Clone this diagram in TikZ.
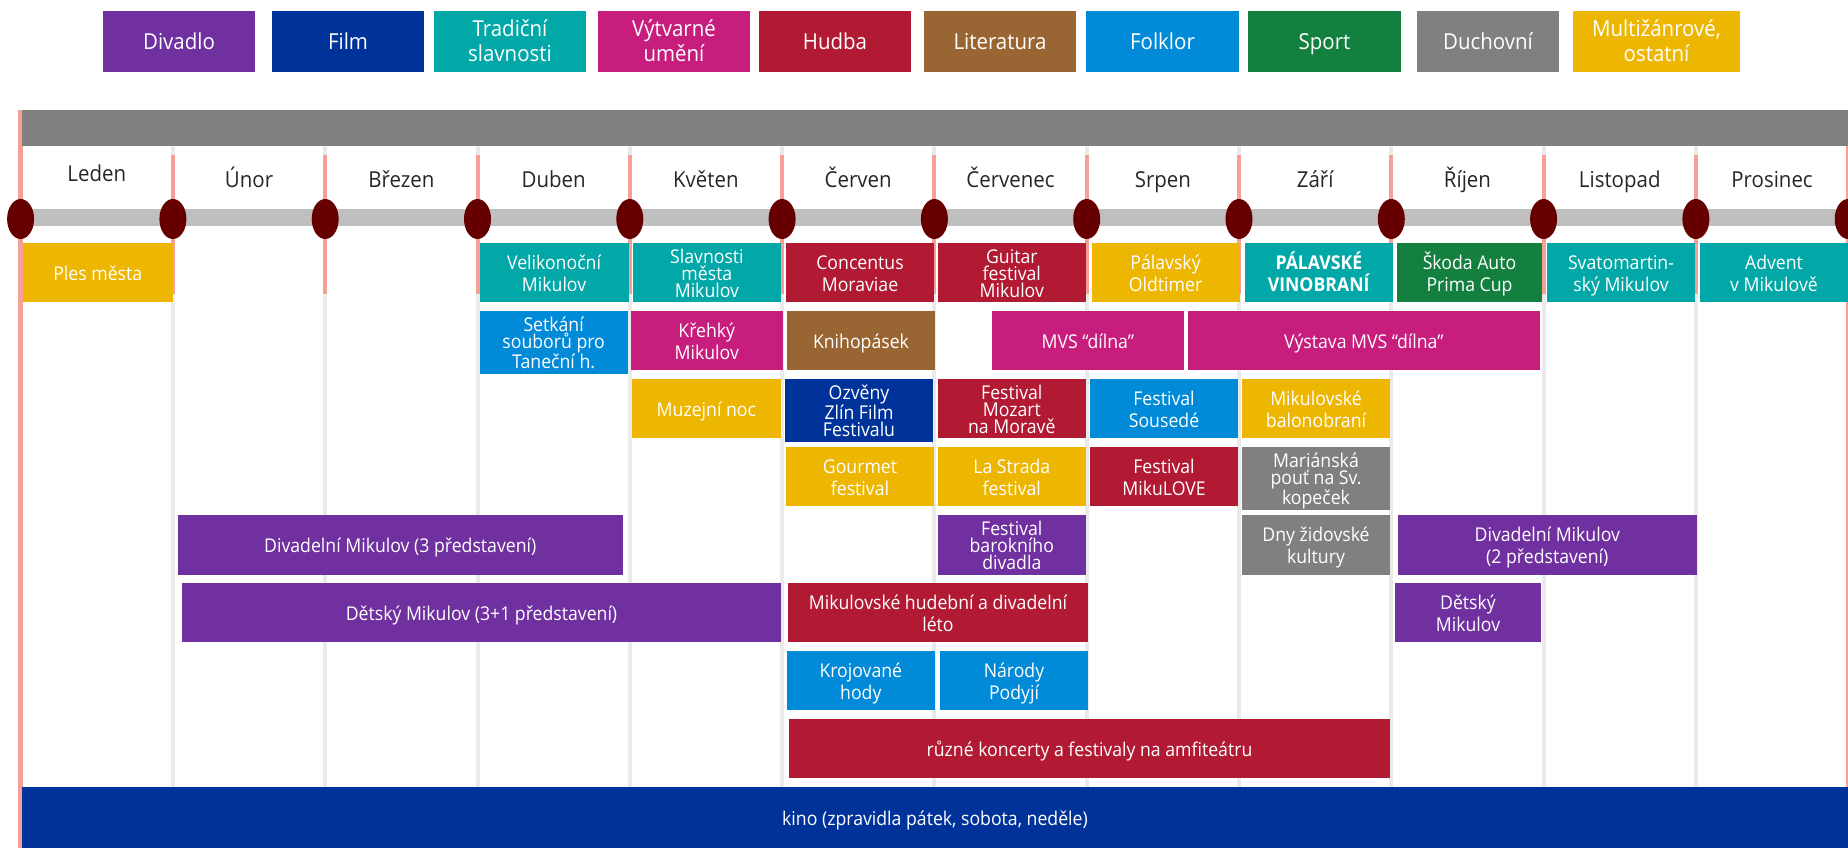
\documentclass[tikz,border=0pt]{standalone}
\usepackage{fontspec}
\setmainfont{Open Sans}[FakeStretch=0.93]
\usetikzlibrary{shapes.geometric}
\definecolor{cPurple}{HTML}{7030A0}
\definecolor{cNavy}{HTML}{003399}
\definecolor{cTeal}{HTML}{02A8A7}
\definecolor{cMagenta}{HTML}{C71D7D}
\definecolor{cCrimson}{HTML}{B21A34}
\definecolor{cBrown}{HTML}{996633}
\definecolor{cBlue}{HTML}{008AD8}
\definecolor{cGreen}{HTML}{138040}
\definecolor{cGray}{HTML}{808080}
\definecolor{cYellow}{HTML}{EDB600}
\definecolor{cMaroon}{HTML}{660000}
\definecolor{cSalmon}{HTML}{F59F96}
\definecolor{cBar}{HTML}{BFBFBF}
\definecolor{cLine}{HTML}{EAEAEA}
\definecolor{cText}{HTML}{262626}
\newcommand\evtop{\rule{0pt}{20.5pt}}
\newcommand\evbot{\rule[-4.9pt]{0pt}{4.9pt}}
\newcommand\lgtop{\rule{0pt}{22pt}}
\newcommand\lgbot{\rule[-6.3pt]{0pt}{6.3pt}}
\newcommand\ev[8][]{%
  \node[evbox,fill=#7,minimum width={#5-#3},minimum height={#6-#4},anchor=north west,#1] (#2) at (#3,#4) {\evtop#8\evbot};}
\newcommand\legbx[7]{%
  \node[legbox,fill=#6,minimum width={#4-#2},minimum height={#5-#3},anchor=north west] (#1) at (#2,#3) {\lgtop#7\lgbot};}
\begin{document}
\begin{tikzpicture}[x=1pt,y=-1pt,
  evbox/.style={rectangle,inner sep=0pt,outer sep=0pt,text=white,align=center,font=\fontsize{19}{22}\selectfont},
  three/.style={font=\fontsize{19}{17}\selectfont},
  legbox/.style={evbox,font=\fontsize{22}{25}\selectfont},
  month/.style={text=cText,font=\fontsize{22}{26}\selectfont,inner sep=0pt},
  dot/.style={ellipse,fill=cMaroon,minimum width=27pt,minimum height=40pt,inner sep=0pt},
  grid/.style={draw=cLine,line width=4pt},
  sal/.style={draw=cSalmon,line width=4pt}]
\useasboundingbox (0,0) rectangle (1848,848);
\clip (0,0) rectangle (1848,848);
% legend
\legbx{lDiv}{103}{11}{255}{72}{cPurple}{Divadlo}
\legbx{lFilm}{272}{11}{424}{72}{cNavy}{Film}
\legbx{lTrad}{434}{11}{586}{72}{cTeal}{Tradiční\\slavnosti}
\legbx{lVyt}{598}{11}{750}{72}{cMagenta}{Výtvarné\\umění}
\legbx{lHud}{759}{11}{911}{72}{cCrimson}{Hudba}
\legbx{lLit}{924}{11}{1076}{72}{cBrown}{Literatura}
\legbx{lFolk}{1086}{11}{1239}{72}{cBlue}{Folklor}
\legbx{lSport}{1248}{11}{1401}{72}{cGreen}{Sport}
\legbx{lDuch}{1417}{11}{1559}{72}{cGray}{Duchovní}
\legbx{lMulti}{1573}{11}{1740}{72}{cYellow}{Multižánrové,\\ostatní}
% grid lines
\foreach \k in {1,...,11}{
  \draw[grid] ({20.6+152.3*\k},146) -- ({20.6+152.3*\k},787);
  \draw[sal] ({20.6+152.3*\k},155) -- ({20.6+152.3*\k},294);
}
\draw[sal,line width=5pt] (20,110) -- (20,848);
\draw[sal] (1848,146) -- (1848,787);
% header and timeline
\fill[cGray] (22,110) rectangle (1848,146);
\fill[cBar] (20,209) rectangle (1848,226);
\foreach \k in {0,...,12}{
  \node[dot] (d\k) at ({20.6+152.3*\k},219) {};
}
% month labels
\node[month] (m1) at ({20.6+152.3*0.5},174) {\lgtop Leden\lgbot};
\node[month] (m2) at ({20.6+152.3*1.5},180) {\lgtop Únor\lgbot};
\node[month] (m3) at ({20.6+152.3*2.5},180) {\lgtop Březen\lgbot};
\node[month] (m4) at ({20.6+152.3*3.5},180) {\lgtop Duben\lgbot};
\node[month] (m5) at ({20.6+152.3*4.5},180) {\lgtop Květen\lgbot};
\node[month] (m6) at ({20.6+152.3*5.5},180) {\lgtop Červen\lgbot};
\node[month] (m7) at ({20.6+152.3*6.5},180) {\lgtop Červenec\lgbot};
\node[month] (m8) at ({20.6+152.3*7.5},180) {\lgtop Srpen\lgbot};
\node[month] (m9) at ({20.6+152.3*8.5},180) {\lgtop Září\lgbot};
\node[month] (m10) at ({20.6+152.3*9.5},180) {\lgtop Říjen\lgbot};
\node[month] (m11) at ({20.6+152.3*10.5},180) {\lgtop Listopad\lgbot};
\node[month] (m12) at ({20.6+152.3*11.5},180) {\lgtop Prosinec\lgbot};
% row 1
\ev{ples}{22.5}{243}{173}{302}{cYellow}{Ples města}
\ev{velik}{479.6}{243}{628.5}{302}{cTeal}{Velikonoční\\Mikulov}
\ev[three]{slavn}{632.8}{243}{781}{302}{cTeal}{Slavnosti\\města\\Mikulov}
\ev{concentus}{786}{243}{934}{302}{cCrimson}{Concentus\\Moraviae}
\ev[three]{guitar}{938}{243}{1085.6}{302}{cCrimson}{Guitar\\festival\\Mikulov}
\ev{oldtimer}{1091.5}{243}{1239.6}{302}{cYellow}{Pálavský\\Oldtimer}
\ev{vinobrani}{1244.8}{243}{1393}{302}{cTeal}{\textbf{PÁLAVSKÉ}\\\textbf{VINOBRANÍ}}
\ev{skoda}{1397}{243}{1542}{302}{cGreen}{Škoda Auto\\Prima Cup}
\ev{svatomartin}{1547}{243}{1695}{302}{cTeal}{Svatomartin-\\ský Mikulov}
\ev{advent}{1700}{243}{1848}{302}{cTeal}{Advent\\v Mikulově}
% row 2
\ev[three]{setkani}{479.6}{311}{627.7}{370}{cBlue}{Setkání\\souborů pro\\Taneční h.}
\ev{krehky}{630.8}{311}{782.7}{370}{cMagenta}{Křehký\\Mikulov}
\ev{kniho}{787}{311}{935}{370}{cBrown}{Knihopásek}
\ev{mvs}{992}{311}{1183.6}{370}{cMagenta}{MVS “dílna”}
\ev{vystava}{1187.6}{311}{1540}{370}{cMagenta}{Výstava MVS “dílna”}
% row 3
\ev{muzejni}{632}{379}{780.7}{438}{cYellow}{Muzejní noc}
\ev[three]{ozveny}{785}{379}{933}{438}{cNavy}{Ozvěny\\Zlín Film\\Festivalu}
\ev[three]{mozart}{938}{379}{1085.6}{438}{cCrimson}{Festival\\Mozart\\na Moravě}
\ev{sousede}{1090}{379}{1238}{438}{cBlue}{Festival\\Sousedé}
\ev{balon}{1242}{379}{1390}{438}{cYellow}{Mikulovské\\balonobraní}
% row 4
\ev{gourmet}{786}{447}{934}{506}{cYellow}{Gourmet\\festival}
\ev{strada}{938}{447}{1085.6}{506}{cYellow}{La Strada\\festival}
\ev{mikulove}{1090}{447}{1238}{506}{cCrimson}{Festival\\MikuLOVE}
\ev[three]{marian}{1242}{447}{1390}{506}{cGray}{Mariánská\\pouť na Sv.\\kopeček}
% row 5
\ev{div3}{178}{515}{622.5}{575}{cPurple}{Divadelní Mikulov (3 představení)}
\ev[three]{barok}{938}{515}{1085.6}{575}{cPurple}{Festival\\barokního\\divadla}
\ev{dny}{1242}{515}{1390}{575}{cGray}{Dny židovské\\kultury}
\ev{div2}{1398}{515}{1696.6}{575}{cPurple}{Divadelní Mikulov\\(2 představení)}
% row 6
\ev{det31}{182}{583}{781}{642}{cPurple}{Dětský Mikulov (3+1 představení)}
\ev{hudleto}{788}{583}{1088}{642}{cCrimson}{Mikulovské hudební a divadelní\\léto}
\ev{det}{1395}{583}{1541}{642}{cPurple}{Dětský\\Mikulov}
% row 7
\ev{kroj}{786.8}{651}{934.8}{710}{cBlue}{Krojované\\hody}
\ev{narody}{940}{651}{1088}{710}{cBlue}{Národy\\Podyjí}
% row 8
\ev{ruzne}{789}{719}{1390}{778}{cCrimson}{různé koncerty a festivaly na amfiteátru}
% kino
\ev{kino}{22}{787}{1848}{848}{cNavy}{kino (zpravidla pátek, sobota, neděle)}
\end{tikzpicture}
\end{document}
